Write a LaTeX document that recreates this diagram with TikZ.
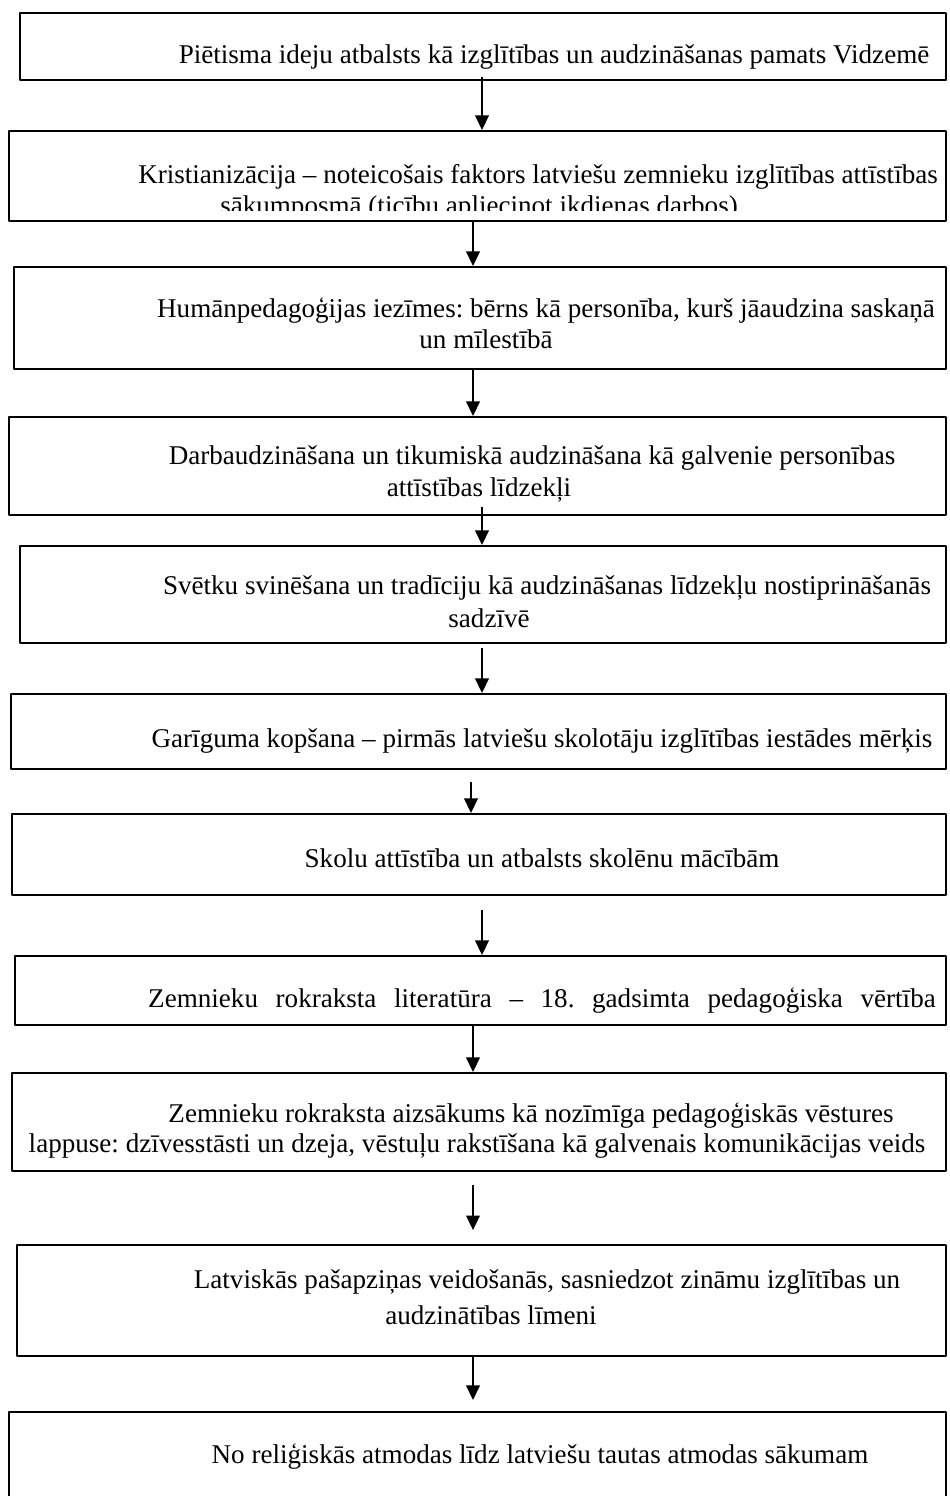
\documentclass[tikz,border=0pt]{standalone}
\usepackage{fontspec}
\setmainfont{Liberation Serif}
\usetikzlibrary{arrows.meta,fit}
\frenchspacing

\tikzset{
  box/.style={draw,line width=0.9pt,inner sep=0pt},
  txt/.style={anchor=base,inner sep=0pt,font=\fontsize{13}{15}\selectfont},
  arr/.style={->,line width=0.9pt}
}

\begin{document}
\begin{tikzpicture}[x=0.48pt,y=-0.48pt,>={Triangle[length=7pt,width=6.5pt]}, line join=round]
		\useasboundingbox (0,0) rectangle (950,1496);
		\clip (0,0) rectangle (950,1496);
		% boxes
		\node[box,fit={(20,13) (946,80)}] (b1) {};
		\node[box,fit={(9,131) (946,221)}] (b2) {};
		\node[box,fit={(14,267) (946,369)}] (b3) {};
		\node[box,fit={(9,417) (946,515)}] (b4) {};
		\node[box,fit={(20,546) (946,643)}] (b5) {};
		\node[box,fit={(11,694) (946,769)}] (b6) {};
		\node[box,fit={(12,814) (946,895)}] (b7) {};
		\node[box,fit={(15,956) (946,1025)}] (b8) {};
		\node[box,fit={(12,1073) (946,1171)}] (b9) {};
		\node[box,fit={(17,1245) (946,1356)}] (b10) {};
		\node[box,fit={(9,1412) (946,1530)}] (b11) {};
		% texts
		\node[txt] (t1) at (554,64) {Piētisma ideju atbalsts kā izglītības un audzināšanas pamats Vidzemē};
		\node[txt] (t2a) at (538,183) {Kristianizācija – noteicošais faktors latviešu zemnieku izglītības attīstības};
		\begin{scope}
			\clip (9,131) rectangle (946,210);
			\node[txt] (t2b) at (479,214) {sākumposmā (ticību apliecinot ikdienas darbos)};
		\end{scope}
		\node[txt] (t3a) at (546,317) {Humānpedagoģijas iezīmes: bērns kā personība, kurš jāaudzina saskaņā};
		\node[txt] (t3b) at (486,348) {un mīlestībā};
		\node[txt] (t4a) at (532,464) {Darbaudzināšana un tikumiskā audzināšana kā galvenie personības};
		\node[txt] (t4b) at (479,496) {attīstības līdzekļi};
		\node[txt] (t5a) at (547,594) {Svētku svinēšana un tradīciju kā audzināšanas līdzekļu nostiprināšanās};
		\node[txt] (t5b) at (489,627) {sadzīvē};
		\node[txt] (t6) at (542,747) {Garīguma kopšana – pirmās latviešu skolotāju izglītības iestādes mērķis};
		\node[txt] (t7) at (542,867) {Skolu attīstība un atbalsts skolēnu mācībām};
		\node[txt] (t8) at (542,1007) {\makebox[378pt][s]{Zemnieku rokraksta literatūra – 18. gadsimta pedagoģiska vērtība}};
		\node[txt] (t9a) at (531,1122) {Zemnieku rokraksta aizsākums kā nozīmīga pedagoģiskās vēstures};
		\node[txt] (t9b) at (477,1152) {lappuse: dzīvesstāsti un dzeja, vēstuļu rakstīšana kā galvenais komunikācijas veids};
		\node[txt] (t10a) at (547,1288) {Latviskās pašapziņas veidošanās, sasniedzot zināmu izglītības un};
		\node[txt] (t10b) at (491,1324) {audzinātības līmeni};
		\node[txt] (t11) at (540,1463) {No reliģiskās atmodas līdz latviešu tautas atmodas sākumam};
		% arrows
		\coordinate (s1) at (482,77);
		\coordinate (s2) at (473,221);
		\coordinate (s3) at (473,369);
		\coordinate (s4) at (482,507);
		\coordinate (s5) at (482,648);
		\coordinate (s6) at (471,782);
		\coordinate (s7) at (482,910);
		\coordinate (s8) at (473,1025);
		\coordinate (s9) at (473,1185);
		\coordinate (s10) at (473,1356);
		\draw[arr] (s1) -- (s1 |- b2.north);
		\draw[arr] (s2) -- (s2 |- b3.north);
		\draw[arr] (s3) -- (s3 |- b4.north);
		\draw[arr] (s4) -- (s4 |- b5.north);
		\draw[arr] (s5) -- (s5 |- b6.north);
		\draw[arr] (s6) -- (s6 |- b7.north);
		\draw[arr] (s7) -- (s7 |- b8.north);
		\draw[arr] (s8) -- (s8 |- b9.north);
		\draw[arr,shorten >=6.7pt] (s9) -- (s9 |- b10.north);
		\draw[arr,shorten >=5.3pt] (s10) -- (s10 |- b11.north);
\end{tikzpicture}
\end{document}
